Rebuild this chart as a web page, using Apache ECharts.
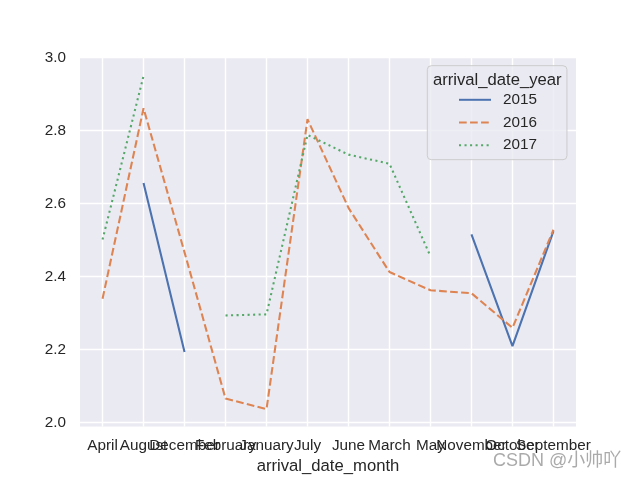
<!DOCTYPE html>
<html>
<head>
<meta charset="utf-8">
<script src="https://cdn.jsdelivr.net/npm/echarts@6/dist/echarts.min.js"></script>
<style>html,body{margin:0;padding:0;background:#fff}#c{width:640px;height:480px}</style>
</head>
<body>
<div id="c"></div>
<script>
const months = ['April','August','December','February','January','July','June','March','May','November','October','September'];
const years = ['2015','2016','2017'];
const y2015 = [null, 2.656, 2.193, null, null, null, null, null, null, 2.515, 2.209, 2.524];
const y2016 = [2.339, 2.861, 2.466, 2.065, 2.036, 2.831, 2.588, 2.412, 2.362, 2.354, 2.259, 2.528];
const y2017 = [2.501, 2.950, null, 2.293, 2.296, 2.788, 2.734, 2.709, 2.455, null, null, null];
const yTicks = [2.0, 2.2, 2.4, 2.6, 2.8, 3.0];

const X_MIN = -0.55, X_MAX = 11.55;
// empty guard labels at both ends so every month label stays visible
const xTicks = [X_MIN].concat(months.map((m, i) => i), [X_MAX]);

const FONT = 'Liberation Sans, Arial, sans-serif';
const colors = ['#4c72b0', '#dd8452', '#55a868'];
const dashes = ['solid', [7.7, 3.33], [2.08, 3.44]];
const seriesVals = [y2015, y2016, y2017];

const chart = echarts.init(document.getElementById('c'), null, {renderer: 'canvas'});
chart.setOption({
  animation: false,
  backgroundColor: '#ffffff',
  grid: {left: 80, right: 64, top: 57.6, bottom: 52.8, show: true, backgroundColor: '#eaeaf2', borderWidth: 0},
  xAxis: {
    type: 'value', min: X_MIN, max: X_MAX,
    axisLine: {show: false},
    axisTick: {show: false, customValues: xTicks},
    axisLabel: {customValues: xTicks,
      formatter: v => (Math.abs(v - Math.round(v)) < 1e-6 && months[Math.round(v)]) ? months[Math.round(v)] : '',
      color: '#262626', fontSize: 15.28, fontFamily: FONT, margin: 11.5, hideOverlap: false},
    splitLine: {show: true, showMinLine: false, showMaxLine: false, lineStyle: {color: '#ffffff', width: 1.39}},
    name: 'arrival_date_month', nameLocation: 'middle', nameGap: 31.5,
    nameTextStyle: {color: '#262626', fontSize: 16.67, fontFamily: FONT}
  },
  yAxis: {
    type: 'value', min: 1.9885, max: 3.0,
    axisLine: {show: false},
    axisTick: {show: false, customValues: yTicks},
    axisLabel: {customValues: yTicks, formatter: v => v.toFixed(1), color: '#262626', fontSize: 15.28, fontFamily: FONT, margin: 14, showMaxLabel: true},
    splitLine: {show: true, showMaxLine: true, lineStyle: {color: '#ffffff', width: 1.39}}
  },
  legend: {
    orient: 'vertical', left: 427.3, top: 65.7,
    padding: [26.6, 30, 7, 30.7],
    itemWidth: 32, itemHeight: 14, itemGap: 7.7,
    itemStyle: {opacity: 0},
    backgroundColor: 'rgba(234,234,242,0.8)', borderColor: '#cccccc', borderWidth: 1, borderRadius: 4,
    textStyle: {color: '#262626', fontSize: 15.28, fontFamily: FONT, padding: [0, 0, 0, 7]},
    data: years
  },
  graphic: [
    {type: 'text', x: 497.3, y: 80, silent: true, z: 100,
     style: {text: 'arrival_date_year', fill: '#262626', font: '16.67px ' + FONT, align: 'center', verticalAlign: 'middle'}},
    {type: 'text', x: 493, y: 461, silent: true, z: 100,
     style: {text: 'CSDN @小帅吖', fill: 'rgba(155,155,155,0.85)', font: '18px Liberation Sans, Noto Sans CJK SC, sans-serif', align: 'left', verticalAlign: 'middle'}}
  ],
  series: years.map((y, k) => ({
    name: y, type: 'line', symbol: 'none', showSymbol: false,
    data: seriesVals[k].map((v, i) => [i, v]),
    connectNulls: false,
    color: colors[k],
    lineStyle: {color: colors[k], width: 2.08, type: dashes[k], cap: 'butt'}
  }))
});
</script>
</body>
</html>
